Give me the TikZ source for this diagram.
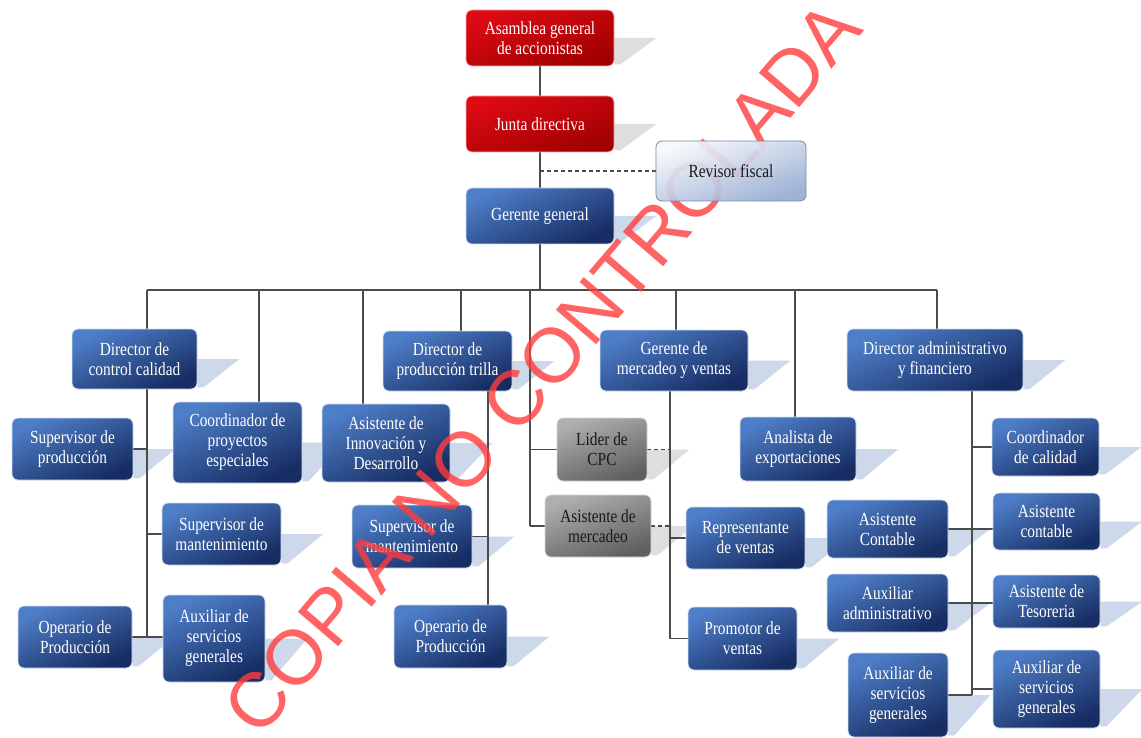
\documentclass[tikz,border=0pt]{standalone}
\usepackage{fontspec}
\setmainfont[FakeStretch=0.83]{Liberation Serif}
\newfontfamily\wmfont{Liberation Sans}
\usetikzlibrary{calc}
\pgfdeclarelayer{bglayer}
\pgfdeclarelayer{shadowlayer}
\pgfdeclarelayer{linelayer}
\pgfdeclarelayer{frontlayer}
\pgfdeclarelayer{toplayer}
\pgfsetlayers{bglayer,shadowlayer,linelayer,main,frontlayer,toplayer}
\definecolor{blueL}{RGB}{78,126,200}
\definecolor{blueD}{RGB}{22,44,98}
\definecolor{redL}{RGB}{222,10,20}
\definecolor{redD}{RGB}{160,0,0}
\definecolor{grayL}{RGB}{175,175,175}
\definecolor{grayD}{RGB}{95,95,95}
\definecolor{revL}{RGB}{246,248,252}
\definecolor{revD}{RGB}{150,172,210}
\definecolor{shblue}{RGB}{205,216,234}
\definecolor{shgray}{RGB}{222,222,222}
\definecolor{linecol}{RGB}{75,75,75}
\definecolor{wmred}{RGB}{255,60,60}
\definecolor{darktext}{RGB}{25,25,25}
\tikzset{
  box/.style={rounded corners=6pt, minimum width=#1, inner sep=0pt, align=center,
    font=\fontsize{18.5}{20}\selectfont, draw=white!75!blueL, line width=0.8pt},
  bluebox/.style={box=#1, top color=blueL, bottom color=blueD, shading angle=25, text=white},
  redbox/.style={box=#1, top color=redL, bottom color=redD, shading angle=20, text=white, draw=white!70!red},
  graybox/.style={box=#1, top color=grayL, bottom color=grayD, shading angle=20, text=darktext, draw=white!70!gray},
  revbox/.style={box=#1, top color=revL, bottom color=revD, shading angle=20, text=darktext, draw=revD!80!black},
  conn/.style={draw=linecol, line width=1.3pt},
  dconn/.style={draw=linecol, line width=1.3pt, dash pattern=on 4pt off 3pt},
}
\newcommand{\boxshadow}[2]{%
  \begin{pgfonlayer}{shadowlayer}
  \fill[#2] (#1.east) -- ([xshift=42pt]#1.east) -- ([xshift=6pt,yshift=2pt]#1.south east) -- ([yshift=2pt]#1.south east) -- cycle;
  \end{pgfonlayer}}
\begin{document}
\begin{tikzpicture}[x=1pt,y=-1pt]
\useasboundingbox (0,0) rectangle (1141,738);
\begin{pgfonlayer}{bglayer}
\fill[white] (0,0) rectangle (1141,738);
\end{pgfonlayer}

% top
\node[redbox=148pt, minimum height=56pt] (A) at (540,38) {Asamblea general\\de accionistas};
\node[redbox=148pt, minimum height=56pt] (J) at (540,124) {Junta directiva};
\begin{pgfonlayer}{toplayer}
\node[revbox=150pt, minimum height=60pt, fill opacity=0.92, text opacity=1] (R) at (731,171) {Revisor fiscal};
\end{pgfonlayer}
\node[bluebox=148pt, minimum height=56pt] (G) at (540,216) {Gerente general};

% level 2
\node[bluebox=125pt, minimum height=60pt] (DCC) at (134.5,359) {Director de\\control calidad};
\node[bluebox=129pt, minimum height=60pt] (DPT) at (447.5,361) {Director de\\producción trilla};
\node[bluebox=148pt, minimum height=61pt] (GMV) at (674,360.5) {Gerente de\\mercadeo y ventas};
\node[bluebox=176pt, minimum height=62pt] (DAF) at (935,360) {Director administrativo\\y financiero};

% level 3
\node[bluebox=121pt, minimum height=62pt] (SP) at (72.5,449) {Supervisor de\\producción};
\node[bluebox=129pt, minimum height=81pt] (CPE) at (237.5,442.5) {Coordinador de\\proyectos\\especiales};
\node[bluebox=128pt, minimum height=78pt] (AID) at (386,443) {Asistente de\\Innovación y\\Desarrollo};
\node[bluebox=119pt, minimum height=62pt] (SM1) at (221.5,534) {Supervisor de\\mantenimiento};
\node[bluebox=114pt, minimum height=62pt] (OP1) at (75,637) {Operario de\\Producción};
\node[bluebox=102pt, minimum height=87pt] (AS1) at (214,638.5) {Auxiliar de\\servicios\\generales};
\node[bluebox=120pt, minimum height=63pt] (SM2) at (412,536.5) {Supervisor de\\mantenimiento};
\node[bluebox=113pt, minimum height=63pt] (OP2) at (450.5,636.5) {Operario de\\Producción};
\node[graybox=90pt, minimum height=63pt] (LC) at (602,449.5) {Lider de\\CPC};
\node[graybox=106pt, minimum height=62pt] (AM) at (598,526) {Asistente de\\mercadeo};
\node[bluebox=119pt, minimum height=62pt] (RV) at (745.5,538) {Representante\\de ventas};
\node[bluebox=109pt, minimum height=63pt] (PV) at (742.5,638.5) {Promotor de\\ventas};
\node[bluebox=116pt, minimum height=64pt] (AE) at (798,449) {Analista de\\exportaciones};
\node[bluebox=107pt, minimum height=58pt] (CC) at (1045.5,447) {Coordinador\\de calidad};
\node[bluebox=121pt, minimum height=58pt] (ACa) at (887.5,529) {Asistente\\Contable};
\node[bluebox=107pt, minimum height=57pt] (ACb) at (1046.5,521.5) {Asistente\\contable};
\node[bluebox=121pt, minimum height=58pt] (AA) at (887.5,603) {Auxiliar\\administrativo};
\node[bluebox=107pt, minimum height=53pt] (AT) at (1046.5,601.5) {Asistente de\\Tesoreria};
\node[bluebox=100pt, minimum height=84pt] (ASL) at (898,695) {Auxiliar de\\servicios\\generales};
\node[bluebox=107pt, minimum height=78pt] (ASR) at (1046.5,689) {Auxiliar de\\servicios\\generales};

% shadows
\boxshadow{A}{shgray}
\boxshadow{J}{shgray}
\boxshadow{G}{shblue}
\foreach \n in {DCC,DPT,GMV,DAF,SP,CPE,AID,SM1,OP1,AS1,SM2,OP2,RV,PV,AE,CC,ACa,ACb,AA,AT,ASL,ASR}{\boxshadow{\n}{shblue}}
\boxshadow{LC}{shgray}
\boxshadow{AM}{shgray}

% junction coordinates
\coordinate (bL) at (147,290);
\coordinate (bR) at (937,290);
\coordinate (d2) at (259,290);
\coordinate (d3) at (363,290);
\coordinate (d4) at (461,290);
\coordinate (d5) at (530,290);
\coordinate (d6) at (676,290);
\coordinate (d7) at (795,290);
\coordinate (v4) at (488,391);
\coordinate (v6) at (670,391);
\coordinate (v8) at (972,391);

\begin{pgfonlayer}{linelayer}
\draw[conn] (A.south) -- (J.north);
\draw[conn] (J.south) -- (G.north);
\draw[dconn] (R.west) -- (R.west -| J.south);
\draw[conn] (G.south) -- (G.south |- bL);
\draw[conn] (bL) -- (bR);
\draw[conn] (bL) -- (bL |- OP1.east);
\draw[conn] (SP.east) -- (SP.east -| bL);
\draw[conn] (SM1.west) -- (SM1.west -| bL);
\draw[conn] (OP1.east) -- (AS1.west |- OP1.east);
\draw[conn] (d2) -- (d2 |- CPE.north);
\draw[conn] (d3) -- (d3 |- AID.north);
\draw[conn] (d4) -- (d4 |- DPT.north);
\draw[conn] (v4) -- (v4 |- OP2.north);
\draw[conn] (SM2.east) -- (SM2.east -| v4);
\draw[conn] (d5) -- (d5 |- AM.west);
\draw[conn] (LC.west) -- (LC.west -| d5);
\draw[conn] (AM.west) -- (AM.west -| d5);
\draw[dconn] (LC.east) -- (LC.east -| v6);
\draw[dconn] (AM.east) -- (AM.east -| v6);
\draw[conn] (d6) -- (d6 |- GMV.north);
\draw[conn] (v6) -- (v6 |- PV.west);
\draw[conn] (RV.west) -- (RV.west -| v6);
\draw[conn] (PV.west) -- (PV.west -| v6);
\draw[conn] (d7) -- (d7 |- AE.north);
\draw[conn] (bR) -- (bR |- DAF.north);
\draw[conn] (v8) -- (v8 |- ASL.east);
\draw[conn] (CC.west) -- (CC.west -| v8);
\draw[conn] (ACa.east) -- (ACa.east -| ACb.west);
\draw[conn] (AA.east) -- (AA.east -| AT.west);
\draw[conn] (ASL.east) -- (ASL.east -| v8);
\draw[conn] (ASR.west) -- (ASR.west -| v8);
\end{pgfonlayer}

\begin{pgfonlayer}{frontlayer}
\node[rotate=49.5, text=wmred, opacity=0.8, inner sep=0pt, font=\wmfont\fontsize{77}{77}\selectfont] (wm) at (542,368) {COPIA NO CONTROLADA};
\end{pgfonlayer}
\end{tikzpicture}
\end{document}
